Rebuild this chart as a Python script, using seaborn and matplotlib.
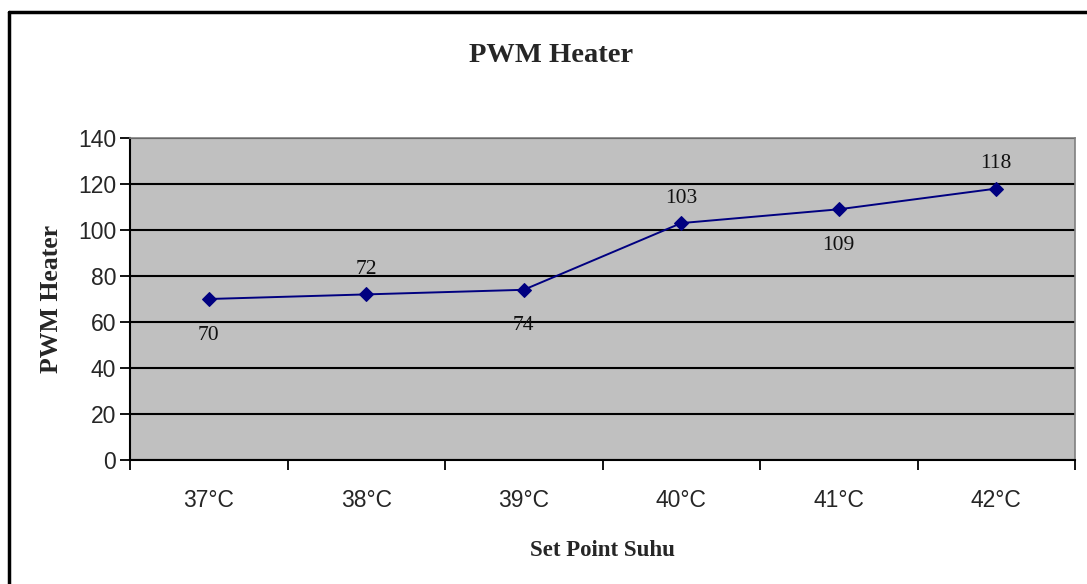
import numpy as np
import pandas as pd
import matplotlib
matplotlib.use('Agg')
import matplotlib.pyplot as plt
import seaborn as sb

# data
set_points = ['37°C', '38°C', '39°C', '40°C', '41°C', '42°C']
pwm = [70, 72, 74, 103, 109, 118]
label_above = [False, True, False, True, False, True]

df = pd.DataFrame({'pos': np.arange(len(set_points)), 'pwm': pwm})

sb.set_style('white')
plt.rcParams['font.family'] = ['Liberation Sans', 'DejaVu Sans']

fig = plt.figure(figsize=(10.87, 5.84), dpi=100)
ax = fig.add_axes([130/1087, 1-460/584, 945/1087, 322/584])
ax.set_facecolor('#C0C0C0')

sb.lineplot(data=df, x='pos', y='pwm', ax=ax, color='#000080', lw=1.4,
            marker='D', markersize=7.5, markeredgecolor='#000080')

# data labels
for x, y, up in zip(df['pos'], df['pwm'], label_above):
    ax.annotate(str(y), (x, y), xytext=(0, 18 if up else -26), textcoords='offset points',
                ha='center', va='center', fontsize=15.5, family='Liberation Serif', color='#111111')

ax.set_xlim(-0.5, len(set_points) - 0.5)
ax.set_ylim(0, 140)
ax.set_yticks(range(0, 141, 20))
ax.yaxis.grid(True, color='black', lw=1.5)
ax.set_axisbelow(True)

# ticks at category boundaries, labels in the middle
ax.set_xticks(np.arange(-0.5, len(set_points), 1.0))
ax.set_xticklabels([])
ax.set_xticks(np.arange(len(set_points)), minor=True)
ax.set_xticklabels(set_points, minor=True)
ax.tick_params(axis='x', which='major', direction='out', length=7, width=1.3, color='black', bottom=True)
ax.tick_params(axis='x', which='minor', length=0, pad=21, labelsize=16.5)
ax.tick_params(axis='y', direction='out', length=7, width=1.3, color='black', left=True, labelsize=16.5, pad=3)

for side in ['top', 'right']:
    ax.spines[side].set_color('#808080')
    ax.spines[side].set_linewidth(1.2)
for side in ['bottom', 'left']:
    ax.spines[side].set_color('black')
    ax.spines[side].set_linewidth(1.5)

ax.set_xlabel('Set Point Suhu', family='Liberation Serif', fontweight='bold', fontsize=16.5, labelpad=20)
ax.set_ylabel('PWM Heater', family='Liberation Serif', fontweight='bold', fontsize=18.5, labelpad=11)
fig.text(551/1087, 1-55/584, 'PWM Heater', ha='center', va='center',
         family='Liberation Serif', fontweight='bold', fontsize=20.5)

# outer frame (top and left edge only visible)
fig.add_artist(plt.Line2D([9/1087, 1], [1-12/584, 1-12/584], color='black', lw=2.5, transform=fig.transFigure))
fig.add_artist(plt.Line2D([9/1087, 9/1087], [0, 1-12/584], color='black', lw=2.5, transform=fig.transFigure))

fig.savefig('out.png', dpi=100)
